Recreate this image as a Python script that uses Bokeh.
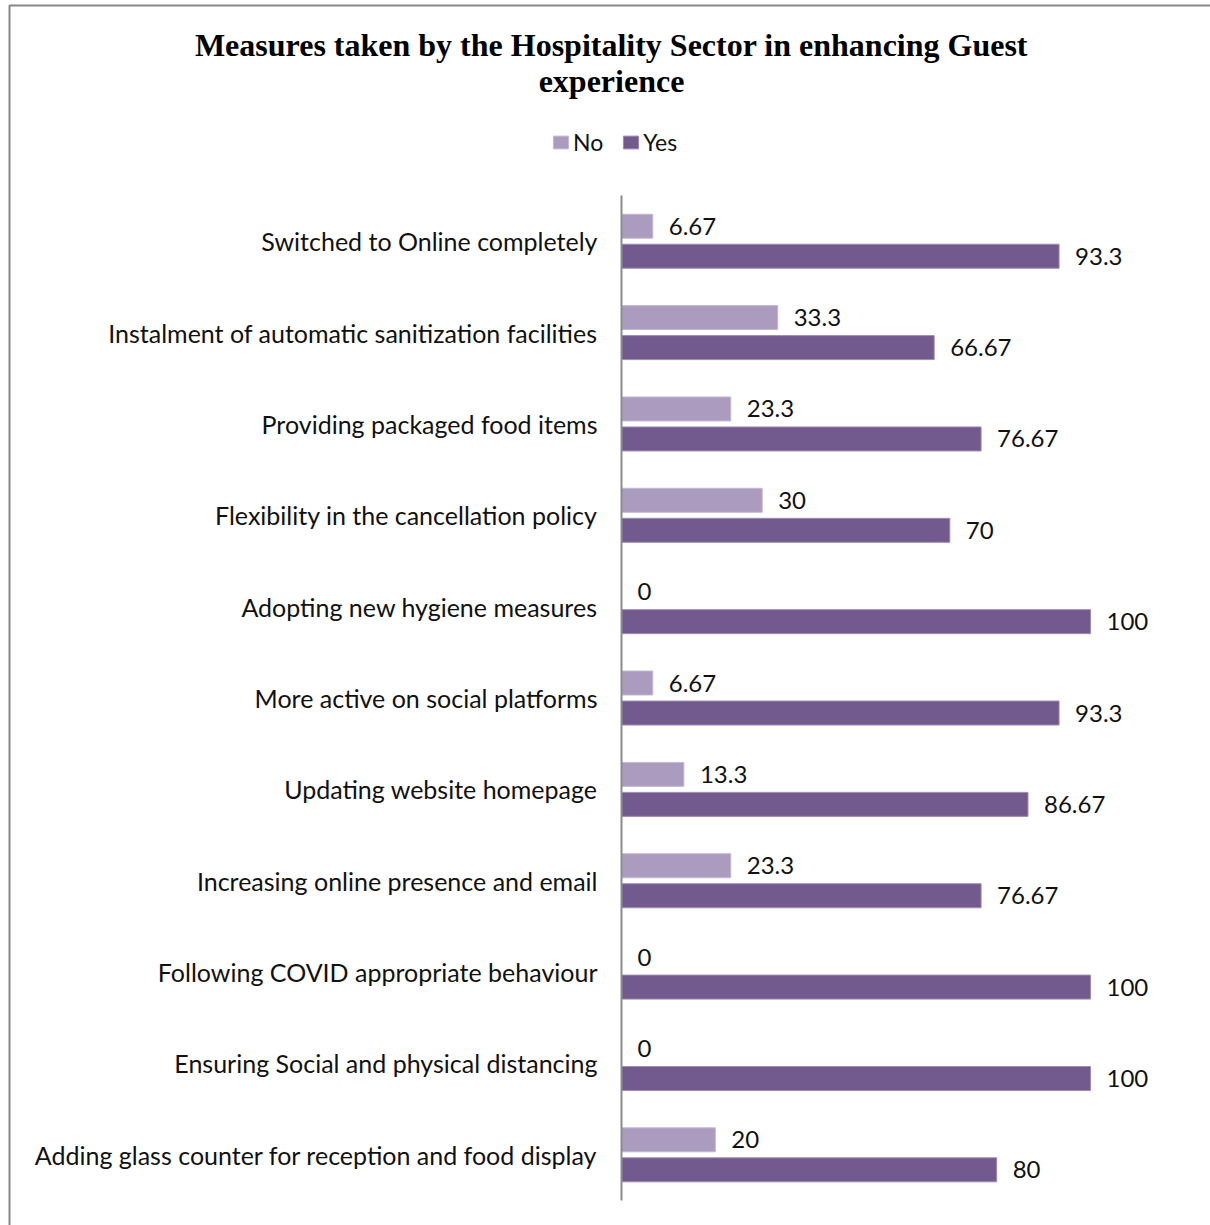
from bokeh.plotting import figure
from bokeh.models import Range1d, ColumnDataSource, Legend, LegendItem
from bokeh.transform import dodge
from bokeh.core.properties import value
from bokeh.embed import file_html
from bokeh.resources import INLINE

# ---------------- data ----------------
categories = [
    "Switched to Online completely",
    "Instalment of automatic sanitization facilities",
    "Providing packaged food items",
    "Flexibility in the cancellation policy",
    "Adopting new hygiene measures",
    "More active on social platforms",
    "Updating website homepage",
    "Increasing online presence and email",
    "Following COVID appropriate behaviour",
    "Ensuring Social and physical distancing",
    "Adding glass counter for reception and food display",
]
no_vals = [6.67, 33.3, 23.3, 30, 0, 6.67, 13.3, 23.3, 0, 0, 20]
yes_vals = [93.3, 66.67, 76.67, 70, 100, 93.3, 86.67, 76.67, 100, 100, 80]
series_names = ["No", "Yes"]
title_lines = ["Measures taken by the Hospitality Sector in enhancing Guest", "experience"]

# ---------------- layout constants (pixels) ----------------
W, H = 1210, 1225
AXIS_PX = 621          # x pixel of value 0
PX_PER_UNIT = 4.69     # x pixels per value unit
BAND_PX = 91.36        # pixels per category band
PLOT_BOTTOM_PX = 1200  # bottom of category area

def xd(px):
    return (px - AXIS_PX) / PX_PER_UNIT

def yd(py):
    return (PLOT_BOTTOM_PX - py) / BAND_PX

n = len(categories)
pos = [n - i - 0.5 for i in range(n)]

src = ColumnDataSource(dict(
    cat=categories,
    pos=pos,
    no=no_vals,
    yes=yes_vals,
    no_lbl=[f"{v:g}" for v in no_vals],
    yes_lbl=[f"{v:g}" for v in yes_vals],
))

p = figure(width=W, height=H,
           x_range=Range1d(xd(0), xd(W)),
           y_range=Range1d(yd(H), yd(0)),
           min_border=0, min_border_left=0, min_border_right=0,
           min_border_top=0, min_border_bottom=0,
           x_axis_location=None, y_axis_location=None,
           output_backend="svg", toolbar_location=None)
p.grid.visible = False
p.outline_line_color = None
p.background_fill_color = "white"
p.border_fill_color = "white"

NO_COLOR = "#AA9BBF"
YES_COLOR = "#725A8E"
OFF = 15 / BAND_PX
BAR_H = 24 / BAND_PX
TXT = "#111111"

# outer border (left and top)
p.line(x=[xd(9), xd(9), xd(W + 5)], y=[yd(H + 5), yd(5), yd(5)],
       line_color="#878787", line_width=2)

# bars
r_no = p.hbar(y=dodge("pos", OFF, range=p.y_range), left=0, right="no", height=BAR_H,
              source=src, fill_color=NO_COLOR, line_color="#C4B9D4", line_width=1)
r_yes = p.hbar(y=dodge("pos", -OFF, range=p.y_range), left=0, right="yes", height=BAR_H,
               source=src, fill_color=YES_COLOR, line_color="#9D8BB5", line_width=1)

# axis line
p.segment(x0=[0], x1=[0], y0=[0], y1=[n], line_color="#8C8C8C", line_width=2)

# category labels
p.text(x=0, y="pos", text="cat", source=src, x_offset=-24,
       text_align="right", text_baseline="middle",
       text_font=value("Lato"), text_font_size="25px", text_color=TXT)

# value labels
p.text(x="no", y=dodge("pos", OFF, range=p.y_range), text="no_lbl", source=src, x_offset=16,
       text_align="left", text_baseline="middle",
       text_font=value("Lato"), text_font_size="24px", text_color=TXT)
p.text(x="yes", y=dodge("pos", -OFF, range=p.y_range), text="yes_lbl", source=src, x_offset=16,
       text_align="left", text_baseline="middle",
       text_font=value("Lato"), text_font_size="24px", text_color=TXT)

# title
p.text(x=[xd(611)] * 2, y=[yd(44), yd(80)], text=title_lines,
       text_align="center", text_baseline="middle",
       text_font=value("Liberation Serif"), text_font_style="bold",
       text_font_size="32px", text_color="black")

# legend
legend = Legend(items=[LegendItem(label=series_names[0], renderers=[r_no]),
                       LegendItem(label=series_names[1], renderers=[r_yes])],
                orientation="horizontal", location=(551, H - 156),
                glyph_width=19, glyph_height=16, label_standoff=3, spacing=18,
                padding=0, margin=0, border_line_color=None, background_fill_alpha=0,
                label_text_font="Lato", label_text_font_size="23px",
                label_text_color=TXT)
p.add_layout(legend)

open("out.html", "w").write(file_html(p, INLINE))
